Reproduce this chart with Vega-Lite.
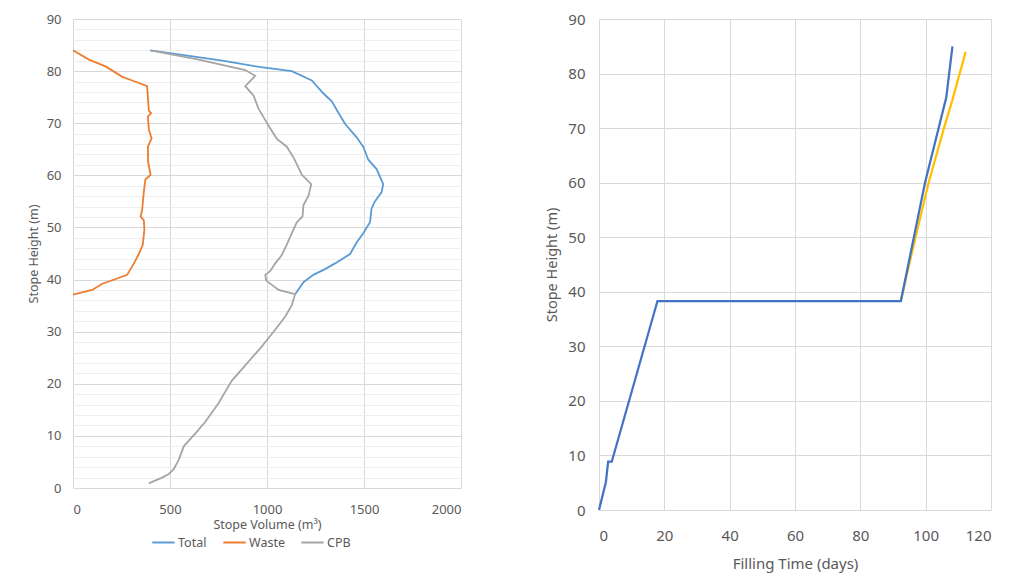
{
  "$schema": "https://vega.github.io/schema/vega-lite/v6.json",
  "background": "white",
  "padding": {"left": 27, "top": 12, "right": 5, "bottom": 5},
  "spacing": 83,
  "config": {
    "font": "Noto Sans",
    "view": {"stroke": null},
    "axis": {"domain": false, "ticks": false, "tickSize": 0, "labelColor": "#595959", "titleColor": "#595959", "titleFontWeight": "normal", "gridColor": "#D9D9D9", "labelOverlap": false}
  },
  "hconcat": [
    {
      "width": 388,
      "height": 469,
      "data": {"values": [
        {"s": "Total", "v": 399, "h": 84}, {"s": "Total", "v": 580, "h": 83}, {"s": "Total", "v": 770, "h": 82}, {"s": "Total", "v": 960, "h": 80.8}, {"s": "Total", "v": 1128, "h": 80}, {"s": "Total", "v": 1231, "h": 78.2}, {"s": "Total", "v": 1291, "h": 75.7}, {"s": "Total", "v": 1334, "h": 74.2}, {"s": "Total", "v": 1368, "h": 72}, {"s": "Total", "v": 1402, "h": 69.9}, {"s": "Total", "v": 1462, "h": 67.3}, {"s": "Total", "v": 1496, "h": 65.5}, {"s": "Total", "v": 1522, "h": 63}, {"s": "Total", "v": 1565, "h": 61.2}, {"s": "Total", "v": 1599, "h": 58.3}, {"s": "Total", "v": 1591, "h": 56.8}, {"s": "Total", "v": 1556, "h": 55}, {"s": "Total", "v": 1539, "h": 53.6}, {"s": "Total", "v": 1531, "h": 51}, {"s": "Total", "v": 1496, "h": 48.9}, {"s": "Total", "v": 1462, "h": 47.1}, {"s": "Total", "v": 1428, "h": 44.9}, {"s": "Total", "v": 1351, "h": 43.1}, {"s": "Total", "v": 1299, "h": 42}, {"s": "Total", "v": 1239, "h": 40.9}, {"s": "Total", "v": 1188, "h": 39.5}, {"s": "Total", "v": 1145, "h": 37.2},
        {"s": "Waste", "v": 0, "h": 84}, {"s": "Waste", "v": 82, "h": 82.2}, {"s": "Waste", "v": 168, "h": 80.9}, {"s": "Waste", "v": 254, "h": 78.9}, {"s": "Waste", "v": 305, "h": 78.2}, {"s": "Waste", "v": 382, "h": 77.1}, {"s": "Waste", "v": 386, "h": 75}, {"s": "Waste", "v": 391, "h": 72.4}, {"s": "Waste", "v": 403, "h": 71.9}, {"s": "Waste", "v": 386, "h": 71.3}, {"s": "Waste", "v": 391, "h": 68.8}, {"s": "Waste", "v": 405, "h": 67.1}, {"s": "Waste", "v": 386, "h": 65.5}, {"s": "Waste", "v": 387, "h": 62.6}, {"s": "Waste", "v": 400, "h": 60.1}, {"s": "Waste", "v": 373, "h": 59.2}, {"s": "Waste", "v": 365, "h": 56.8}, {"s": "Waste", "v": 356, "h": 53.2}, {"s": "Waste", "v": 348, "h": 52.1}, {"s": "Waste", "v": 365, "h": 51.4}, {"s": "Waste", "v": 368, "h": 49.6}, {"s": "Waste", "v": 360, "h": 46.7}, {"s": "Waste", "v": 339, "h": 44.9}, {"s": "Waste", "v": 314, "h": 43.1}, {"s": "Waste", "v": 279, "h": 40.9}, {"s": "Waste", "v": 228, "h": 40.2}, {"s": "Waste", "v": 151, "h": 39.2}, {"s": "Waste", "v": 99, "h": 38}, {"s": "Waste", "v": 0, "h": 37.1},
        {"s": "CPB", "v": 399, "h": 84}, {"s": "CPB", "v": 648, "h": 82.2}, {"s": "CPB", "v": 888, "h": 80.2}, {"s": "CPB", "v": 939, "h": 79.1}, {"s": "CPB", "v": 888, "h": 77.1}, {"s": "CPB", "v": 931, "h": 75.3}, {"s": "CPB", "v": 956, "h": 72.8}, {"s": "CPB", "v": 974, "h": 71.7}, {"s": "CPB", "v": 1008, "h": 69.5}, {"s": "CPB", "v": 1051, "h": 67}, {"s": "CPB", "v": 1102, "h": 65.5}, {"s": "CPB", "v": 1137, "h": 63.4}, {"s": "CPB", "v": 1180, "h": 60.1}, {"s": "CPB", "v": 1228, "h": 58.3}, {"s": "CPB", "v": 1214, "h": 56.1}, {"s": "CPB", "v": 1188, "h": 54.3}, {"s": "CPB", "v": 1183, "h": 52.1}, {"s": "CPB", "v": 1154, "h": 51}, {"s": "CPB", "v": 1128, "h": 48.9}, {"s": "CPB", "v": 1102, "h": 46.7}, {"s": "CPB", "v": 1073, "h": 44.5}, {"s": "CPB", "v": 1042, "h": 43.1}, {"s": "CPB", "v": 1016, "h": 41.6}, {"s": "CPB", "v": 991, "h": 40.9}, {"s": "CPB", "v": 996, "h": 39.8}, {"s": "CPB", "v": 1059, "h": 38}, {"s": "CPB", "v": 1145, "h": 37.2}, {"s": "CPB", "v": 1128, "h": 35.1}, {"s": "CPB", "v": 1094, "h": 32.9}, {"s": "CPB", "v": 1051, "h": 30.8}, {"s": "CPB", "v": 1004, "h": 28.6}, {"s": "CPB", "v": 965, "h": 26.8}, {"s": "CPB", "v": 922, "h": 25}, {"s": "CPB", "v": 871, "h": 22.8}, {"s": "CPB", "v": 819, "h": 20.6}, {"s": "CPB", "v": 785, "h": 18.5}, {"s": "CPB", "v": 751, "h": 16.3}, {"s": "CPB", "v": 716, "h": 14.5}, {"s": "CPB", "v": 682, "h": 12.7}, {"s": "CPB", "v": 631, "h": 10.5}, {"s": "CPB", "v": 597, "h": 9.1}, {"s": "CPB", "v": 571, "h": 8}, {"s": "CPB", "v": 545, "h": 5.4}, {"s": "CPB", "v": 519, "h": 3.6}, {"s": "CPB", "v": 494, "h": 2.7}, {"s": "CPB", "v": 459, "h": 2}, {"s": "CPB", "v": 391, "h": 0.9}
      ]},
      "encoding": {
        "x": {"field": "v", "type": "quantitative", "scale": {"domain": [0, 2000], "nice": false},
          "axis": {"values": [0, 500, 1000, 1500, 2000], "format": "d", "title": "Stope Volume (m³)", "labelFontSize": 13, "titleFontSize": 12.5, "labelPadding": 15, "titlePadding": 2}},
        "y": {"field": "h", "type": "quantitative", "scale": {"domain": [0, 90], "nice": false},
          "axis": {"values": [0,2,4,6,8,10,12,14,16,18,20,22,24,26,28,30,32,34,36,38,40,42,44,46,48,50,52,54,56,58,60,62,64,66,68,70,72,74,76,78,80,82,84,86,88,90],
            "labelExpr": "datum.value % 10 === 0 ? datum.label : ''",
            "gridColor": {"condition": {"test": "datum.value % 10 === 0", "value": "#D9D9D9"}, "value": "#EEEEEE"},
            "title": "Stope Height (m)", "titleFontSize": 12.5, "labelFontSize": 13, "labelPadding": 12, "titlePadding": 6}},
        "color": {"field": "s", "type": "nominal",
          "scale": {"domain": ["Total", "Waste", "CPB"], "range": ["#5B9BD5", "#ED7D31", "#A5A5A5"]},
          "legend": {"orient": "none", "legendX": 78, "legendY": 511, "direction": "horizontal", "title": null, "symbolType": "stroke", "symbolStrokeWidth": 2, "symbolSize": 500, "labelFontSize": 12.5, "labelColor": "#595959", "columnPadding": 12, "labelOffset": 2}},
        "order": {"field": "h", "type": "quantitative"}
      },
      "layer": [
        {"transform": [{"filter": "datum.s === 'Total'"}], "mark": {"type": "line", "strokeWidth": 1.8}},
        {"transform": [{"filter": "datum.s === 'Waste'"}], "mark": {"type": "line", "strokeWidth": 1.8}},
        {"transform": [{"filter": "datum.s === 'CPB'"}], "mark": {"type": "line", "strokeWidth": 1.8}}
      ]
    },
    {
      "width": 392,
      "height": 491,
      "data": {"values": [
        {"s": "B", "t": 92.4, "h": 38.3}, {"s": "B", "t": 94.6, "h": 44.1}, {"s": "B", "t": 96.9, "h": 50}, {"s": "B", "t": 100.9, "h": 60}, {"s": "B", "t": 105.6, "h": 70}, {"s": "B", "t": 108.1, "h": 75}, {"s": "B", "t": 110.4, "h": 80}, {"s": "B", "t": 111.6, "h": 82.5}, {"s": "B", "t": 112.2, "h": 84},
        {"s": "A", "t": 0, "h": 0}, {"s": "A", "t": 2.1, "h": 5.1}, {"s": "A", "t": 2.8, "h": 8.85}, {"s": "A", "t": 3.9, "h": 8.85}, {"s": "A", "t": 17.9, "h": 38.3}, {"s": "A", "t": 92.4, "h": 38.3}, {"s": "A", "t": 99.8, "h": 60}, {"s": "A", "t": 106.3, "h": 75.6}, {"s": "A", "t": 108.2, "h": 85}
      ]},
      "encoding": {
        "x": {"field": "t", "type": "quantitative", "scale": {"domain": [0, 120], "nice": false},
          "axis": {"values": [0, 20, 40, 60, 80, 100, 120], "title": "Filling Time (days)", "labelFontSize": 15, "titleFontSize": 15, "labelPadding": 18, "titlePadding": 13}},
        "y": {"field": "h", "type": "quantitative", "scale": {"domain": [0, 90], "nice": false},
          "axis": {"values": [0, 10, 20, 30, 40, 50, 60, 70, 80, 90], "title": "Stope Height (m)", "titleFontSize": 14.5, "labelFontSize": 15, "labelPadding": 14, "titlePadding": 8}}
      },
      "layer": [
        {"transform": [{"filter": "datum.s === 'B'"}], "mark": {"type": "line", "strokeWidth": 2.25, "color": "#FFC000"}},
        {"transform": [{"filter": "datum.s === 'A'"}], "mark": {"type": "line", "strokeWidth": 2.25, "color": "#4472C4"}}
      ]
    }
  ]
}
